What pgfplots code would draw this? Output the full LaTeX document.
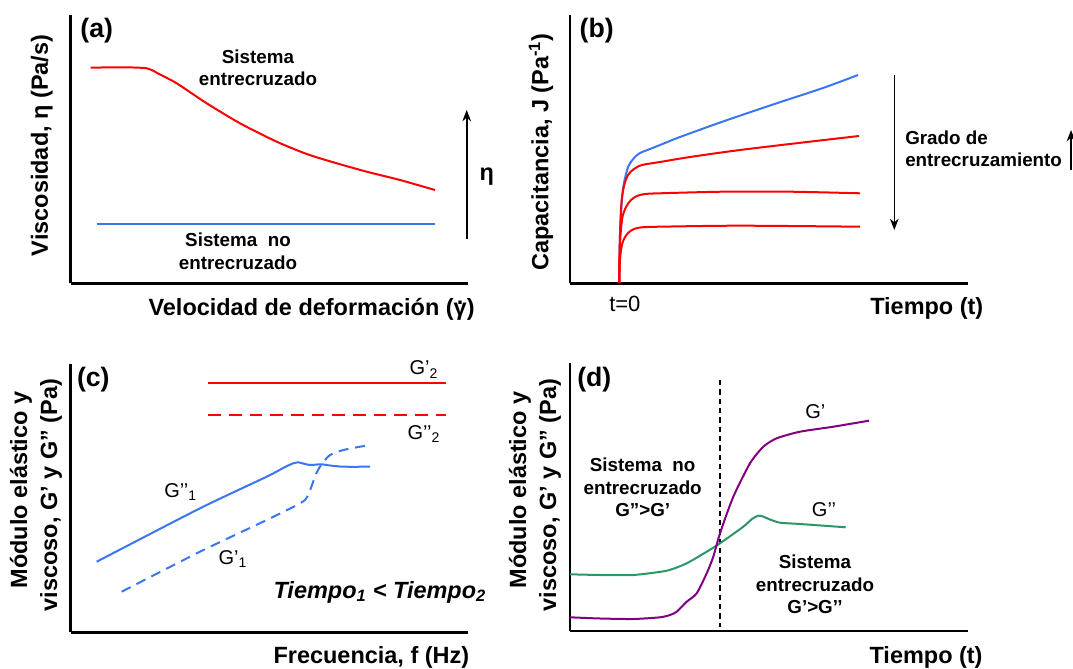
\documentclass[border=0pt]{standalone}
\usepackage{fontspec}
\setmainfont{Liberation Sans}
\usepackage{pgfplots}
\usepackage{pgfplotstable}
\pgfplotsset{compat=1.18}
\usetikzlibrary{arrows.meta}

\definecolor{cred}{RGB}{255,0,0}
\definecolor{cblue}{RGB}{58,118,240}
\definecolor{cpurple}{RGB}{128,0,128}
\definecolor{cgreen}{RGB}{46,150,100}

\newcommand\axl{\fontsize{17.6}{21}\selectfont\bfseries}
\newcommand\ann{\fontsize{14.1}{17}\selectfont\bfseries}
\newcommand\pl{\fontsize{20}{24}\selectfont\bfseries}
\newcommand\reg{\fontsize{15}{18}\selectfont}

\pgfplotsset{panel/.style={scale only axis, axis x line*=bottom, axis y line*=left,
  axis line style={line width=2pt,-}, xtick=\empty, ytick=\empty, clip=false,
  anchor=south west, every axis plot/.append style={line width=1.5pt}}}

% all values: x = horizontal position, py = vertical position (measured from top)
\pgfplotstableread{
x py
90.7 67.7
120 67.3
146.7 68.3
160 74.5
176.7 83.3
206.7 103.3
240 123.3
276.7 141.7
306.7 154
333.3 162.3
366.7 171.7
400 180
435 190
}\tAred
\pgfplotstableread{
x py
96.7 224
435 224
}\tAblue
\pgfplotstableread{
x py
619.3 283
619.5 260
620 235
621.5 205
623.3 187
626 174
629 165
634 158
640 153
650 149
665 143
680 137
723 121.5
773 104.5
823 88
858 75
}\tBblue
\pgfplotstableread{
x py
619.3 283
619.5 255
620.3 225
621.7 200
624 186
628 175
634 169
642 165
660 162
690 157
740 150
807 142
859 136
}\tBrA
\pgfplotstableread{
x py
619.3 283
619.5 260
620.5 235
622.5 217
626 207
631 200
637 196
645 194
660 193.3
723 191.7
790 191.7
860 193.3
}\tBrB
\pgfplotstableread{
x py
619.3 283
619.7 265
621 250
623.5 240
628 233
634 229
642 227.3
660 226.7
740 225.7
860 226.7
}\tBrC
\pgfplotstableread{
x py
208.3 383.3
446 383.3
}\tCrs
\pgfplotstableread{
x py
208.3 415
446 415
}\tCrd
\pgfplotstableread{
x py
96.7 561.7
200 508.3
266.7 476.7
285 467
293.3 463.3
298.3 462.3
303 463.5
310 465
316 464.6
321.7 464.3
330 465.5
343.3 466.7
370 466.7
}\tCbs
\pgfplotstableread{
x py
121.7 591.7
200 551.7
266.7 520
295 506
305 500
309 493
312 485
316 474
320 466.7
325 460
330 455
340 451
350 448.5
370 445
}\tCbd
\pgfplotstableread{
x py
570 617.3
600 618.5
633.3 619
660 617.3
670 615
676.7 611.7
686.7 601.7
696.7 593.3
706.7 573.3
713.3 556.7
720 533.3
733.3 496.7
750 463.3
763.3 446.7
776.7 438.3
800 431.7
833.3 426.7
869 420.7
}\tDp
\pgfplotstableread{
x py
570 574.3
600 575
633.3 575
666.7 570.7
686.7 563.3
706.7 551.7
720 543.3
743.3 526.7
752 519
758.3 515.7
763 516.5
770 519.5
780 522.7
800 524
845.7 527.3
}\tDg

\begin{document}
\begin{tikzpicture}
\path[use as bounding box] (0,0) rectangle (1073*0.75pt,668*0.75pt);

% (a)
\begin{axis}[panel, at={(70.7*0.75pt,384.7*0.75pt)},
  width=397.3*0.75pt, height=268.3*0.75pt,
  xmin=70.7, xmax=468, ymin=384.7, ymax=653]
\addplot[cred, smooth, tension=0.4] table[x=x, y expr=668-\thisrow{py}] {\tAred};
\addplot[cblue] table[x=x, y expr=668-\thisrow{py}] {\tAblue};
\end{axis}

% (b)
\begin{axis}[panel, at={(570*0.75pt,384.7*0.75pt)},
  width=397.7*0.75pt, height=268.3*0.75pt,
  xmin=570, xmax=967.7, ymin=384.7, ymax=653]
\addplot[cblue, smooth, tension=0.5] table[x=x, y expr=668-\thisrow{py}] {\tBblue};
\addplot[cred, smooth, tension=0.5] table[x=x, y expr=668-\thisrow{py}] {\tBrA};
\addplot[cred, smooth, tension=0.5] table[x=x, y expr=668-\thisrow{py}] {\tBrB};
\addplot[cred, smooth, tension=0.5] table[x=x, y expr=668-\thisrow{py}] {\tBrC};
\end{axis}

% (c)
\begin{axis}[panel, at={(70.7*0.75pt,35.7*0.75pt)},
  width=397.3*0.75pt, height=268*0.75pt,
  xmin=70.7, xmax=468, ymin=35.7, ymax=303.7]
\addplot[cred] table[x=x, y expr=668-\thisrow{py}] {\tCrs};
\addplot[cred, dash pattern=on 9.5pt off 6pt] table[x=x, y expr=668-\thisrow{py}] {\tCrd};
\addplot[cblue, smooth, tension=0.4] table[x=x, y expr=668-\thisrow{py}] {\tCbs};
\addplot[cblue, smooth, tension=0.4, dash pattern=on 7.5pt off 5pt] table[x=x, y expr=668-\thisrow{py}] {\tCbd};
\end{axis}

% (d)
\begin{axis}[panel, at={(570*0.75pt,37*0.75pt)},
  width=397.7*0.75pt, height=267.7*0.75pt,
  xmin=570, xmax=967.7, ymin=37, ymax=304.7]
\addplot[black, line width=1.1pt, dash pattern=on 4pt off 3pt] coordinates {(720,288) (720,41.3)};
\addplot[cgreen, smooth, tension=0.4] table[x=x, y expr=668-\thisrow{py}] {\tDg};
\addplot[cpurple, smooth, tension=0.4] table[x=x, y expr=668-\thisrow{py}] {\tDp};
\end{axis}

% annotations in pixel coordinates (y measured from the top)
\begin{scope}[x=0.75pt,y=-0.75pt,yshift=501pt]
\tikzset{arr/.style={line width=1.2pt,-{Stealth[length=8.5pt,width=6.5pt]}}}
% (a)
\node[font=\pl] at (96.7,30.7) {(a)};
\node[font=\ann, anchor=base] at (258,63.3) {Sistema};
\node[font=\ann, anchor=base] at (258,86) {entrecruzado};
\node[font=\ann, anchor=base] at (238,246.7) {Sistema\ \ no};
\node[font=\ann, anchor=base] at (238,269.3) {entrecruzado};
\draw[arr] (466.7,239.3) -- (466.7,110);
\node[font=\axl] at (486.7,176.7) {η};
\node[font=\axl, anchor=base west, inner sep=0pt] at (148.3,316) {Velocidad de deformación (γ\llap{\raisebox{0.5em}{.}\hspace{0.14em}})};
\node[font=\axl, rotate=90] at (41.7,145.5) {Viscosidad, η (Pa/s)};
% (b)
\node[font=\pl] at (596.7,30.7) {(b)};
\node[font=\fontsize{16.5}{19}\selectfont, anchor=base west, inner sep=0pt] at (609,311.7) {t=0};
\node[font=\axl, anchor=base west, inner sep=0pt] at (870,315) {Tiempo (t)};
\node[font=\axl, rotate=90] at (541,152) {Capacitancia, J (Pa\textsuperscript{-1})};
\draw[arr] (894.3,75) -- (894.3,230);
\node[font=\ann, anchor=base west, inner sep=0pt] at (905,144.3) {Grado de};
\node[font=\ann, anchor=base west, inner sep=0pt] at (905,166.7) {entrecruzamiento};
\draw[arr] (1071,170) -- (1071,130);
% (c)
\node[font=\pl] at (93.3,380) {(c)};
\node[font=\reg, anchor=base west, inner sep=0pt] at (409.3,375) {G’\textsubscript{2}};
\node[font=\reg, anchor=base west, inner sep=0pt] at (407.3,439.3) {G’’\textsubscript{2}};
\node[font=\reg, anchor=base west, inner sep=0pt] at (164,497.3) {G’’\textsubscript{1}};
\node[font=\reg, anchor=base west, inner sep=0pt] at (218.3,564.3) {G’\textsubscript{1}};
\node[font=\fontsize{17.6}{21}\selectfont\bfseries\itshape, anchor=base west, inner sep=0pt] at (273.3,598.3) {Tiempo\textsubscript{1} < Tiempo\textsubscript{2}};
\node[font=\axl, anchor=base west, inner sep=0pt] at (273.3,663.3) {Frecuencia, f (Hz)};
\node[font=\axl, rotate=90] at (21,490) {Módulo elástico y};
\node[font=\axl, rotate=90] at (51,495) {viscoso, G’ y G’’ (Pa)};
% (d)
\node[font=\pl] at (594.3,380) {(d)};
\node[font=\reg, anchor=base west, inner sep=0pt] at (805,418.3) {G’};
\node[font=\reg, anchor=base west, inner sep=0pt] at (811.7,516.7) {G’’};
\node[font=\ann, anchor=base] at (642.7,471.7) {Sistema\ \ no};
\node[font=\ann, anchor=base] at (642.7,494) {entrecruzado};
\node[font=\ann, anchor=base] at (642.7,516) {G”>G’};
\node[font=\ann, anchor=base] at (815,568.3) {Sistema};
\node[font=\ann, anchor=base] at (815,591) {entrecruzado};
\node[font=\ann, anchor=base] at (815,613.3) {G’>G’’};
\node[font=\axl, anchor=base west, inner sep=0pt] at (869.3,663.3) {Tiempo (t)};
\node[font=\axl, rotate=90] at (520,490) {Módulo elástico y};
\node[font=\axl, rotate=90] at (550,495) {viscoso, G’ y G’’ (Pa)};
\end{scope}
\end{tikzpicture}
\end{document}
